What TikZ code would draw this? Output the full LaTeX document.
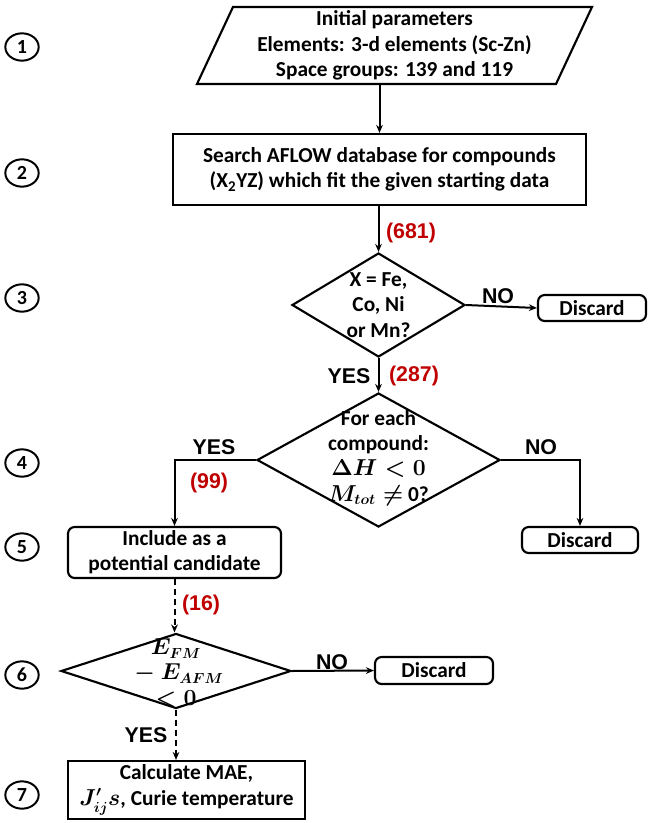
\documentclass[tikz,border=0pt]{standalone}
\usepackage{amsmath}
\usepackage{fontspec}
\setmainfont{Carlito}
\newfontfamily\arialfont{Liberation Sans}
\usetikzlibrary{shapes.geometric,arrows.meta}
\definecolor{numred}{RGB}{192,0,0}
\begin{document}
\begin{tikzpicture}[x=0.75pt,y=-0.75pt,
  txt/.style={font=\fontsize{16}{19}\selectfont\bfseries\boldmath, align=center, inner sep=0pt},
  boxsq/.style={txt, draw, line width=1.6pt},
  boxrd/.style={boxsq, rounded corners=5pt},
  dia/.style={diamond, draw, line width=1.6pt, inner sep=0pt},
  lab/.style={font=\arialfont\fontsize{16}{18}\selectfont\bfseries, inner sep=0pt},
  num/.style={lab, text=numred},
  stepnum/.style={ellipse, draw, line width=1.5pt, minimum width=25pt, minimum height=20.5pt, inner sep=0pt, font=\fontsize{15}{17}\selectfont\bfseries},
  arr/.style={-{Stealth[length=6pt,width=5pt]}, line width=1.5pt},
  dsh/.style={arr, dash pattern=on 4.5pt off 3pt}]
\useasboundingbox (0,0) rectangle (649,823);

% step numbers
\node[stepnum] (c1) at (22,47) {1};
\node[stepnum] (c2) at (22,173) {2};
\node[stepnum] (c3) at (22,298) {3};
\node[stepnum] (c4) at (22,463) {4};
\node[stepnum] (c5) at (22,547) {5};
\node[stepnum] (c6) at (22,675) {6};
\node[stepnum] (c7) at (22,795) {7};

% step 1: parallelogram
\draw[line width=1.6pt] (233,7) -- (592,7) -- (556,84) -- (197,84) -- cycle;
\node[txt, minimum width=270pt, minimum height=57.75pt] (p1) at (394.5,45.5)
  {Initial parameters\\Elements: 3-d elements (Sc-Zn)\\Space groups: 139 and 119};

% step 2
\node[boxsq, minimum width=309.75pt, minimum height=53.25pt] (b2) at (379.5,169.5)
  {Search AFLOW database for compounds\\(X\textsubscript{2}YZ) which fit the given starting data};

% step 3
\node[dia, minimum width=129.75pt, minimum height=78pt] (d3) at (378.5,305) {};
\node[txt] (t3) at (d3) {X = Fe,\\Co, Ni\\or Mn?};
\node[boxrd, minimum width=81pt, minimum height=19.5pt] (x3) at (592,308) {Discard};

% step 4
\node[dia, minimum width=182.25pt, minimum height=100.5pt] (d4) at (378.5,460) {};
\node[txt] (t4) at (378.5,458) {For each\\compound:\\$\Delta H<0$\\$M_{tot}\neq$ 0?};
\node[boxrd, minimum width=87pt, minimum height=19.5pt] (x4) at (580,540) {Discard};

% step 5
\node[boxrd, minimum width=159.75pt, minimum height=38.25pt] (b5) at (174.5,552.5)
  {Include as a\\potential candidate};

% step 6
\node[dia, minimum width=172.5pt, minimum height=56.25pt] (d6) at (176,671) {};
\node[txt] (t6) at (176,673) {$E_{FM}$\\${}-E_{AFM}$\\$<0$};
\node[boxrd, minimum width=88.5pt, minimum height=20.25pt] (x6) at (434,670.5) {Discard};

% step 7
\node[boxsq, minimum width=177.75pt, minimum height=43.5pt] (b7) at (186.5,790)
  {Calculate MAE,\\$J'_{ij}s$, Curie temperature};

% connectors
\draw[arr] (p1.south -| b2.north) -- (b2.north);
\draw[arr] (b2.south -| d3.north) -- (d3.north);
\draw[arr] (d3.east) -- (x3.west);
\draw[arr] (d3.south) -- (d4.north);
\draw[arr] (d4.west) -| (b5.north);
\draw[arr] (d4.east) -| (x4.north);
\draw[dsh] (b5.south) -- (b5.south |- d6.north);
\draw[arr] (d6.east) -- (x6.west);
\draw[dsh] (d6.south) -- (d6.south |- b7.north);

% labels
\node[num] (n681) at (411,233) {(681)};
\node[lab] (no3) at (498,296) {NO};
\node[lab] (yes3) at (349,376) {YES};
\node[num] (n287) at (414,376) {(287)};
\node[lab] (yes4) at (214,447) {YES};
\node[lab] (no4) at (541,447) {NO};
\node[num] (n99) at (209,483) {(99)};
\node[num] (n16) at (201,605) {(16)};
\node[lab] (no6) at (332,662) {NO};
\node[lab] (yes6) at (146,735) {YES};
\end{tikzpicture}
\end{document}
